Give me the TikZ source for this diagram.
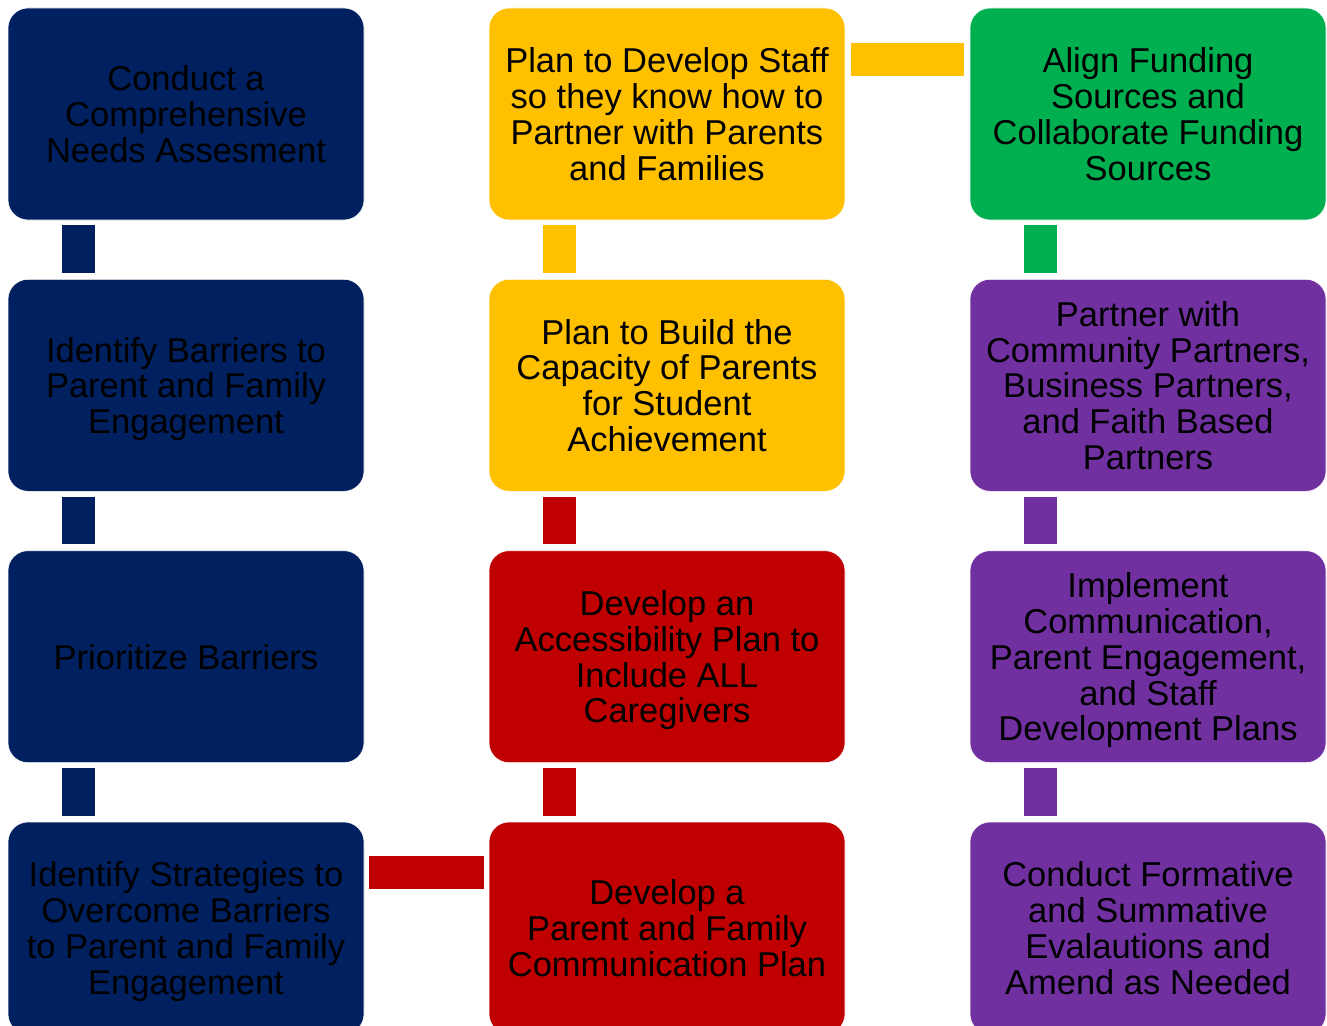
\documentclass[tikz,border=0pt]{standalone}
\usepackage{fontspec}
\setmainfont{Liberation Sans}
\usetikzlibrary{calc}
\definecolor{navy}{HTML}{002060}
\definecolor{gold}{HTML}{FFC000}
\definecolor{leaf}{HTML}{00B050}
\definecolor{plum}{HTML}{7030A0}
\definecolor{crimson}{HTML}{C00000}
\begin{document}
\begin{tikzpicture}[x=1pt,y=-1pt,
  stepbox/.style={draw=white,line width=0.6pt,rounded corners=20pt,
    minimum width=356pt,minimum height=212pt,inner sep=0pt,text depth=0pt,
    align=center,text=black,font=\fontsize{34.5}{35.8}\selectfont},
  bar/.style={line width=33pt,line cap=butt}]
\useasboundingbox (0,0) rectangle (1327,1025);
\clip (0,0) rectangle (1327,1025);
% left column
\node[stepbox,fill=navy] (a1) at (186,114) {Conduct a\\Comprehensive\\Needs Assesment};
\node[stepbox,fill=navy] (a2) at (186,385.3) {Identify Barriers to\\Parent and Family\\Engagement};
\node[stepbox,fill=navy] (a3) at (186,656.7) {Prioritize Barriers};
\node[stepbox,fill=navy] (a4) at (186,928) {Identify Strategies to\\Overcome Barriers\\to Parent and Family\\Engagement};
% middle column
\node[stepbox,fill=gold] (b1) at (667,114) {Plan to Develop Staff\\so they know how to\\Partner with Parents\\and Families};
\node[stepbox,fill=gold] (b2) at (667,385.3) {Plan to Build the\\Capacity of Parents\\for Student\\Achievement};
\node[stepbox,fill=crimson] (b3) at (667,656.7) {Develop an\\Accessibility Plan to\\Include ALL\\Caregivers};
\node[stepbox,fill=crimson] (b4) at (667,928) {Develop a\\Parent and Family\\Communication Plan};
% right column
\node[stepbox,fill=leaf] (c1) at (1148,114) {Align Funding\\Sources and\\Collaborate Funding\\Sources};
\node[stepbox,fill=plum] (c2) at (1148,385.3) {Partner with\\Community Partners,\\Business Partners,\\and Faith Based\\Partners};
\node[stepbox,fill=plum] (c3) at (1148,656.7) {Implement\\Communication,\\Parent Engagement,\\and Staff\\Development Plans};
\node[stepbox,fill=plum] (c4) at (1148,928) {Conduct Formative\\and Summative\\Evalautions and\\Amend as Needed};
% vertical links
\foreach \u/\v/\col in {a1/a2/navy,a2/a3/navy,a3/a4/navy,
                        b1/b2/gold,b2/b3/crimson,b3/b4/crimson,
                        c1/c2/leaf,c2/c3/plum,c3/c4/plum}{
  \draw[bar,\col] ($(\u.south west)+(70.5,5)$) -- ($(\v.north west)+(70.5,-6)$);
}
% horizontal links
\draw[bar,crimson] ($(a4.north east)+(5,50.5)$) -- ($(b4.north west)+(-5,50.5)$);
\draw[bar,gold] ($(b1.north east)+(6,51.5)$) -- ($(c1.north west)+(-6,51.5)$);
\end{tikzpicture}
\end{document}
